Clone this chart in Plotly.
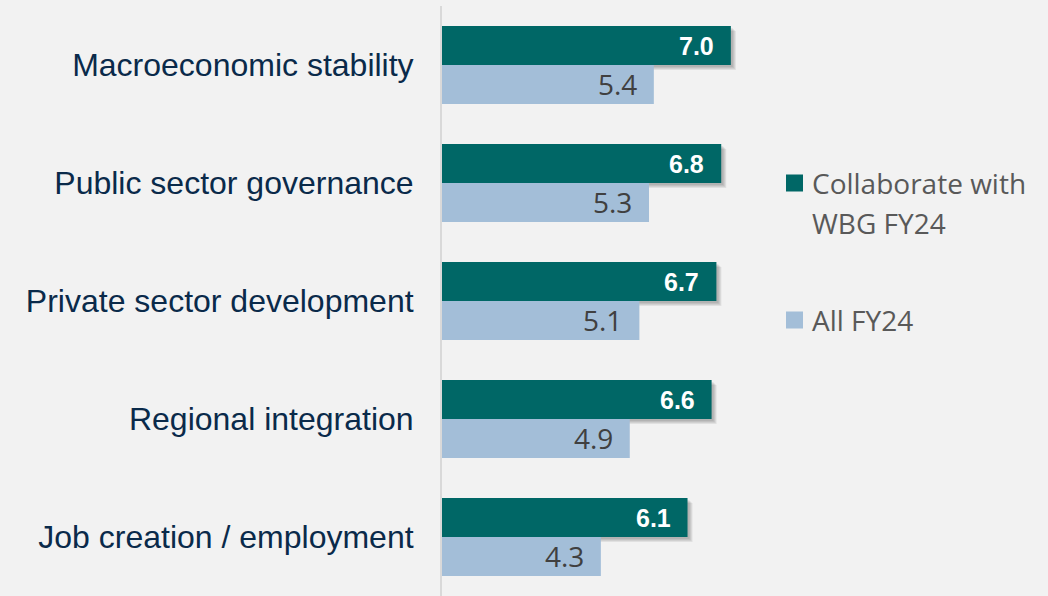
import plotly.graph_objects as go

categories = ["Macroeconomic stability", "Public sector governance", "Private sector development",
              "Regional integration", "Job creation / employment"]
collab_fy24 = [7.0, 6.8, 6.7, 6.6, 6.1]
all_fy24 = [5.4, 5.3, 5.1, 4.9, 4.3]

DARK = "#006766"
LIGHT = "#a3bed8"
BG = "#f2f2f2"

W, H = 1048, 596
L, T, B = 442, 6, 0
XMIN, XMAX = 1, 8
PW = 337
R = W - L - PW
PH = H - T - B

BAR_W = 0.33
idx = list(range(len(categories)))
dark_y = [i - BAR_W / 2 for i in idx]
light_y = [i + BAR_W / 2 for i in idx]

px_x = (XMAX - XMIN) / PW
px_y = 5 / PH

fig = go.Figure()

# soft shadow under the dark bars
for k in [5, 4, 3, 2]:
    fig.add_trace(go.Bar(
        x=[v + k * px_x for v in collab_fy24], y=[y + k * px_y for y in dark_y],
        orientation="h", width=BAR_W, marker=dict(color="rgba(0,0,0,0.07)", line=dict(width=0)),
        showlegend=False, hoverinfo="skip"))

fig.add_trace(go.Bar(x=all_fy24, y=light_y, orientation="h", width=BAR_W, name="All FY24",
                     marker=dict(color=LIGHT, line=dict(width=0)), showlegend=False))
fig.add_trace(go.Bar(x=collab_fy24, y=dark_y, orientation="h", width=BAR_W, name="Collaborate with WBG FY24",
                     marker=dict(color=DARK, line=dict(width=0)), showlegend=False))

annotations = []
for v, y in zip(collab_fy24, dark_y):
    annotations.append(dict(x=v, y=y, xref="x", yref="y", text=f"{v:.1f}", showarrow=False,
                            xanchor="right", yanchor="middle", xshift=-15,
                            font=dict(family="Liberation Sans, Arial", size=25, color="white", weight="bold")))
for v, y in zip(all_fy24, light_y):
    annotations.append(dict(x=v, y=y, xref="x", yref="y", text=f"{v:.1f}", showarrow=False,
                            xanchor="right", yanchor="middle", xshift=-15,
                            font=dict(family="Open Sans", size=28, color="#404040")))

def pxx(x):
    return (x - L) / PW

def pxy(y):
    return (H - B - y) / PH

shapes = []
legend_items = [(DARK, "Collaborate with", "WBG FY24", 183), (LIGHT, "All FY24", None, 320)]
for color, l1, l2, cy in legend_items:
    shapes.append(dict(type="rect", xref="paper", yref="paper",
                       x0=pxx(786), x1=pxx(803), y0=pxy(cy - 8.5), y1=pxy(cy + 8.5),
                       fillcolor=color, line=dict(width=0)))
    annotations.append(dict(x=pxx(810), y=pxy(cy), xref="paper", yref="paper", text=l1, showarrow=False,
                            xanchor="left", yanchor="middle",
                            font=dict(family="Open Sans", size=28, color="#595959")))
    if l2:
        annotations.append(dict(x=pxx(810), y=pxy(cy + 40), xref="paper", yref="paper", text=l2,
                                showarrow=False, xanchor="left", yanchor="middle",
                                font=dict(family="Open Sans", size=28, color="#595959")))

fig.update_layout(
    width=W, height=H,
    margin=dict(l=L, r=R, t=T, b=B, pad=0),
    paper_bgcolor=BG, plot_bgcolor=BG,
    barmode="overlay",
    showlegend=False,
    xaxis=dict(range=[XMIN, XMAX], visible=False, fixedrange=True),
    yaxis=dict(range=[4.5, -0.5], tickmode="array", tickvals=idx, ticktext=categories,
               showline=True, linecolor="#d9d9d9", linewidth=2, showgrid=False, zeroline=False,
               ticks="", ticklabelstandoff=20, fixedrange=True,
               tickfont=dict(family="Liberation Sans, Arial", size=32, color="#0a2a4a")),
    shapes=shapes,
    annotations=annotations,
)

fig.write_html("out.html", config={"displayModeBar": False},
               post_script="document.body.style.margin='0';document.body.style.background='#f2f2f2';")
